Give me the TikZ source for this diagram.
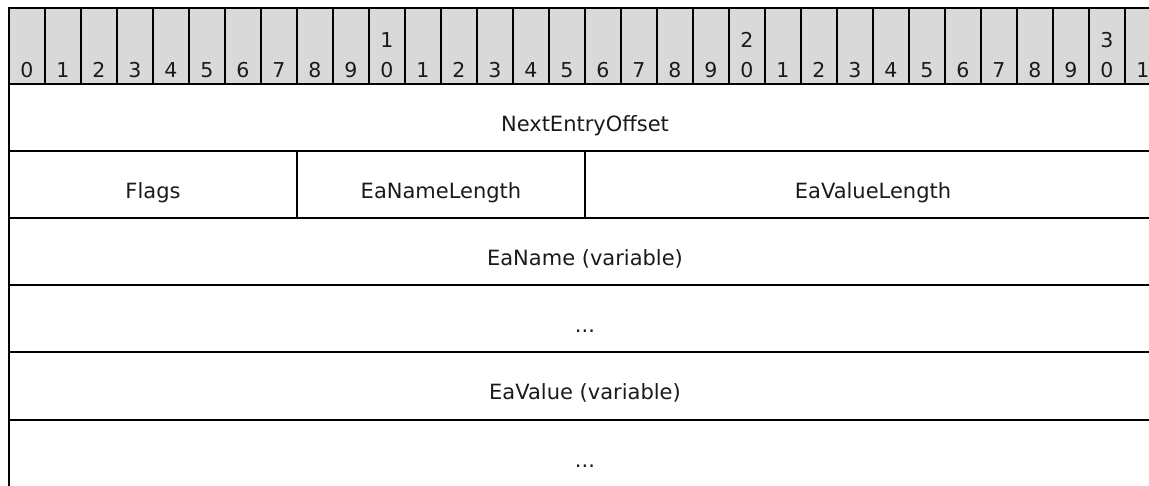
\documentclass[tikz,border=0pt]{standalone}
\usepackage{fontspec}
\setmainfont{DejaVu Sans}
\definecolor{hdrgray}{HTML}{D9D9D9}
\definecolor{txt}{HTML}{1A1A1A}
\begin{document}
\begin{tikzpicture}[x=1pt,y=-1pt,
  hdrcell/.style={draw=black, line width=1.5pt, fill=hdrgray},
  bitlbl/.style={anchor=base, inner sep=0pt, text=txt, font=\fontsize{20.5}{20.5}\selectfont},
  fld/.style={anchor=base, inner sep=0pt, text=txt, font=\fontsize{21}{21}\selectfont},
  rowline/.style={line width=2pt, line cap=rect}]
\useasboundingbox (0,0) rectangle (1149,485);
\clip (0,0) rectangle (1149,485);
% header
\foreach \k in {0,...,31} {
  \pgfmathsetmacro{\xl}{9+36*\k}
  \pgfmathsetmacro{\xc}{27+36*\k}
  \pgfmathtruncatemacro{\u}{mod(\k,10)}
  \pgfmathtruncatemacro{\t}{\k/10}
  \draw[hdrcell] (\xl,8) rectangle ++(36,76);
  \node[bitlbl] (b\k) at (\xc,77) {\u};
  \ifnum\u=0 \ifnum\k>0
    \node[bitlbl] (t\k) at (\xc,47) {\t};
  \fi\fi
}
% body lines
\draw[rowline] (9,84) -- (1160,84);
\foreach \y in {151,218,285,352,420} {
  \draw[rowline] (9,\y) -- (1160,\y);
}
\draw[rowline] (9,8) -- (9,486);
\draw[rowline] (297,151) -- (297,218);
\draw[rowline] (585,151) -- (585,218);
% field labels
\node[fld] (neo) at (585,131) {NextEntryOffset};
\node[fld] (flags) at (153,198) {Flags};
\node[fld] (enl) at (441,198) {EaNameLength};
\node[fld] (evl) at (873,198) {EaValueLength};
\node[fld] (ean) at (585,265) {EaName (variable)};
\node[fld] (dots1) at (585,332) {...};
\node[fld] (eav) at (585,399) {EaValue (variable)};
\node[fld] (dots2) at (585,467) {...};
\end{tikzpicture}
\end{document}
